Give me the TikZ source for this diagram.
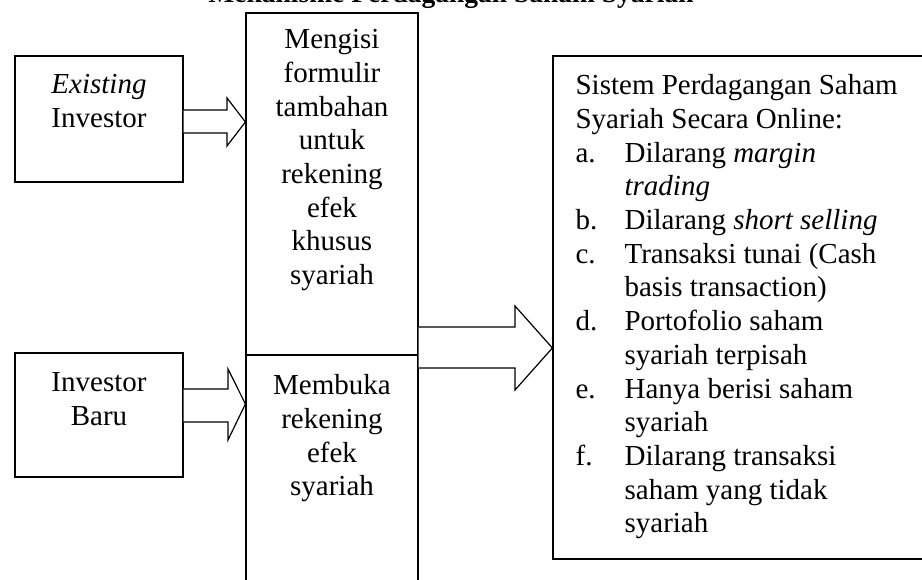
\documentclass[tikz,border=0pt]{standalone}
\usepackage{fontspec}
\setmainfont{Liberation Serif}
\usetikzlibrary{positioning}
\newcommand{\itemlbl}[1]{\makebox[49pt][l]{#1}}

\begin{document}
\begin{tikzpicture}[x=1pt,y=1pt,
    box/.style={draw, line width=1.2pt, inner sep=0pt},
    txt/.style={inner sep=0pt, font=\fontsize{29}{33.7}\selectfont},
    blockarr/.style={draw, line width=1.2pt, fill=white}]
  \useasboundingbox (0,0) rectangle (922,580);
  \clip (0,0) rectangle (922,580);
  \node (title) [txt, font=\fontsize{27.5}{33.7}\selectfont\bfseries, anchor=base] at (451,577.5) {Mekanisme Perdagangan Saham Syariah};
  \node (ex) [box, minimum width=168pt, minimum height=126pt] at (99,461) {};
  \node (nb) [box, minimum width=168pt, minimum height=124pt] at (99,165) {};
  \node (fm) [box, minimum width=172pt, minimum height=342pt] at (332,396) {};
  \node (rb) [box, minimum width=172pt, minimum height=255pt] at (332,97.5) {};
  \node (sys) [box, minimum width=387pt, minimum height=503pt] at (746.5,272.5) {};
  \node (extxt) [txt, below=19pt of ex.north, align=center] {\textit{Existing}\\Investor};
  \node (nbtxt) [txt, below=20pt of nb.north, align=center] {Investor\\Baru};
  \node (fmtxt) [txt, below=17pt of fm.north, align=center]
    {Mengisi\\formulir\\tambahan\\untuk\\rekening\\efek\\khusus\\syariah};
  \node (rbtxt) [txt, below=20pt of rb.north, align=center] {Membuka\\rekening\\efek\\syariah};
  \node (systxt) [txt, below right=19pt and 23pt of sys.north west, align=left]
    {Sistem Perdagangan Saham\\
     Syariah Secara Online:\\
     \itemlbl{a.}Dilarang \textit{margin}\\
     \itemlbl{}\textit{trading}\\
     \itemlbl{b.}Dilarang \textit{short selling}\\
     \itemlbl{c.}Transaksi tunai (Cash\\
     \itemlbl{}basis transaction)\\
     \itemlbl{d.}Portofolio saham\\
     \itemlbl{}syariah terpisah\\
     \itemlbl{e.}Hanya berisi saham\\
     \itemlbl{}syariah\\
     \itemlbl{f.}Dilarang transaksi\\
     \itemlbl{}saham yang tidak\\
     \itemlbl{}syariah};
  % block arrows
  \draw[blockarr] (ex.east |- 0,447) -- (227,447) -- (227,434) -- (fm.west |- 0,458)
    -- (227,482) -- (227,470) -- (ex.east |- 0,470);
  \draw[blockarr] (nb.east |- 0,158) -- (228,158) -- (228,140) -- (rb.west |- 0,176)
    -- (228,211) -- (228,191) -- (nb.east |- 0,191);
  \draw[blockarr] (fm.east |- 0,212) -- (515,212) -- (515,190) -- (sys.west |- 0,232)
    -- (515,274) -- (515,253) -- (fm.east |- 0,253);
\end{tikzpicture}
\end{document}
